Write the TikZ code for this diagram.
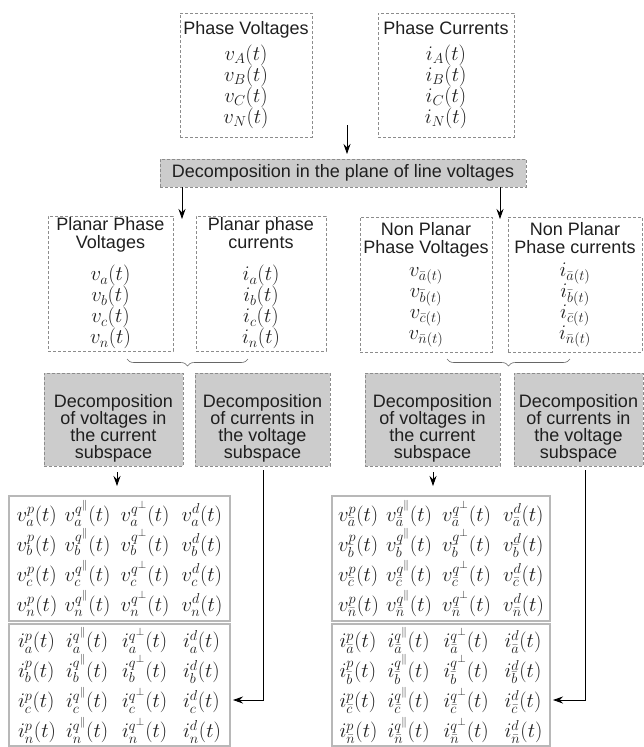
\documentclass[tikz,border=0pt]{standalone}
\usepackage{fontspec}
\setsansfont{Liberation Sans}
\usetikzlibrary{arrows.meta,decorations.pathreplacing}

\definecolor{framegray}{gray}{0.55}
\definecolor{fillgray}{gray}{0.8}
\definecolor{matgray}{gray}{0.72}
\definecolor{inkgray}{gray}{0.12}

\newcommand{\tightlines}{\lineskiplimit=-50pt\relax}
\newcommand{\mline}[1]{{\fontsize{21.5}{21}\selectfont$#1$}}
\newcommand{\mcell}[2]{\makebox[#1][l]{$#2$}}
\newcommand{\vrow}[1]{\mcell{48pt}{v_{#1}^{p}(t)}\mcell{56pt}{v_{#1}^{q^{\parallel}}(t)}\mcell{61pt}{v_{#1}^{q^{\perp}}(t)}$v_{#1}^{d}(t)$}
\newcommand{\irow}[1]{\mcell{48pt}{i_{#1}^{p}(t)}\mcell{56pt}{i_{#1}^{q^{\parallel}}(t)}\mcell{61pt}{i_{#1}^{q^{\perp}}(t)}$i_{#1}^{d}(t)$}

\begin{document}
\begin{tikzpicture}[x=1pt, y=-1pt, inner sep=0pt, outer sep=0pt,
    font=\sffamily\fontsize{18}{21}\selectfont\tightlines,
    every node/.style={text=inkgray},
    dashbox/.style={draw=framegray, densely dashed, line width=0.6pt, align=center},
    graybox/.style={dashbox, fill=fillgray},
    graytext/.style={align=center, font=\sffamily\fontsize{18}{17}\selectfont},
    matbox/.style={draw=matgray, line width=1.2pt, align=left,
      font=\fontsize{21.5}{30}\selectfont},
    arr/.style={-{Stealth[length=10pt,width=7pt]}, line width=0.8pt, black},
    brace/.style={decorate, decoration={brace, mirror, amplitude=7pt},
      draw=black!60, line width=0.6pt}]
  \useasboundingbox (0,0) rectangle (644,747);

  \node [dashbox, minimum width=132, minimum height=124] (pv) at (246,75)
    {Phase Voltages\\[5pt]\mline{v_A(t)}\\\mline{v_B(t)}\\\mline{v_C(t)}\\\mline{v_N(t)}};
  \node [dashbox, minimum width=136, minimum height=124] (pc) at (446,75)
    {Phase Currents\\[5pt]\mline{i_A(t)}\\\mline{i_B(t)}\\\mline{i_C(t)}\\\mline{i_N(t)}};

  \node [graybox, minimum width=366, minimum height=28] (dec) at (343,173)
    {Decomposition in the plane of line voltages};

  \node [dashbox, minimum width=125, minimum height=135] (ppv) at (110.5,283.5)
    {Planar Phase\\[-3pt]Voltages\\[11pt]\mline{v_a(t)}\\\mline{v_b(t)}\\\mline{v_c(t)}\\\mline{v_n(t)}};
  \node [dashbox, minimum width=130, minimum height=135] (ppc) at (261,283.5)
    {Planar phase\\[-3pt]currents\\[11pt]\mline{i_a(t)}\\\mline{i_b(t)}\\\mline{i_c(t)}\\\mline{i_n(t)}};
  \node [dashbox, minimum width=132, minimum height=135] (npv) at (426,284.5)
    {Non Planar\\[-3pt]Phase Voltages\\[2pt]\mline{v_{\bar{a}(t)}}\\\mline{v_{\bar{b}(t)}}\\\mline{v_{\bar{c}(t)}}\\\mline{v_{\bar{n}(t)}}};
  \node [dashbox, minimum width=134, minimum height=135] (npc) at (575,284.5)
    {Non Planar\\[-3pt]Phase currents\\[2pt]\mline{i_{\bar{a}(t)}}\\\mline{i_{\bar{b}(t)}}\\\mline{i_{\bar{c}(t)}}\\\mline{i_{\bar{n}(t)}}};

  \draw [brace] (127,359) -- (248,359);
  \draw [brace] (447,359) -- (570,359);

  \node [graybox, minimum width=139, minimum height=93] (dvc1) at (113.5,419.5) {};
  \node [graytext] at ([yshift=-8.5pt]dvc1.center)
    {Decomposition\\of voltages in\\the current\\subspace};
  \node [graybox, minimum width=135, minimum height=93] (dcv1) at (262.5,419.5) {};
  \node [graytext] at ([yshift=-8.5pt]dcv1.center)
    {Decomposition\\of currents in\\the voltage\\subspace};
  \node [graybox, minimum width=135, minimum height=93] (dvc2) at (432.5,419.5) {};
  \node [graytext] at ([yshift=-8.5pt]dvc2.center)
    {Decomposition\\of voltages in\\the current\\subspace};
  \node [graybox, minimum width=129, minimum height=93] (dcv2) at (578.5,419.5) {};
  \node [graytext] at ([yshift=-8.5pt]dcv2.center)
    {Decomposition\\of currents in\\the voltage\\subspace};

  \node [matbox, minimum width=221, minimum height=125] (vm1) at (119.5,558.5)
    {\vrow{a}\\\vrow{b}\\\vrow{c}\\\vrow{n}};
  \node [matbox, minimum width=221, minimum height=122] (im1) at (119.5,685)
    {\irow{a}\\\irow{b}\\\irow{c}\\\irow{n}};
  \node [matbox, minimum width=218, minimum height=125] (vm2) at (441,558.5)
    {\vrow{\bar{a}}\\\vrow{\bar{b}}\\\vrow{\bar{c}}\\\vrow{\bar{n}}};
  \node [matbox, minimum width=218, minimum height=122] (im2) at (441,685)
    {\irow{\bar{a}}\\\irow{\bar{b}}\\\irow{\bar{c}}\\\irow{\bar{n}}};

  \coordinate (join) at (347,125);
  \draw [arr, shorten >=5pt] (join) -- (join |- dec.north);
  \coordinate (splitL) at (182,219);
  \coordinate (splitR) at (500,219);
  \draw [arr] (splitL |- dec.south) -- (splitL);
  \draw [arr] (splitR |- dec.south) -- (splitR);
  \coordinate (dropL) at (117,486);
  \coordinate (dropR) at (433,486);
  \draw [arr, shorten <=6pt] (dropL |- dvc1.south) -- (dropL);
  \draw [arr, shorten <=6pt] (dropR |- dvc2.south) -- (dropR);
  \coordinate (turnL) at (263,700);
  \coordinate (turnR) at (585,700);
  \draw [arr, shorten <=4pt, shorten >=3pt] (turnL |- dcv1.south) -- (turnL) -- (turnL -| im1.east);
  \draw [arr, shorten <=4pt, shorten >=3pt] (turnR |- dcv2.south) -- (turnR) -- (turnR -| im2.east);
\end{tikzpicture}
\end{document}
